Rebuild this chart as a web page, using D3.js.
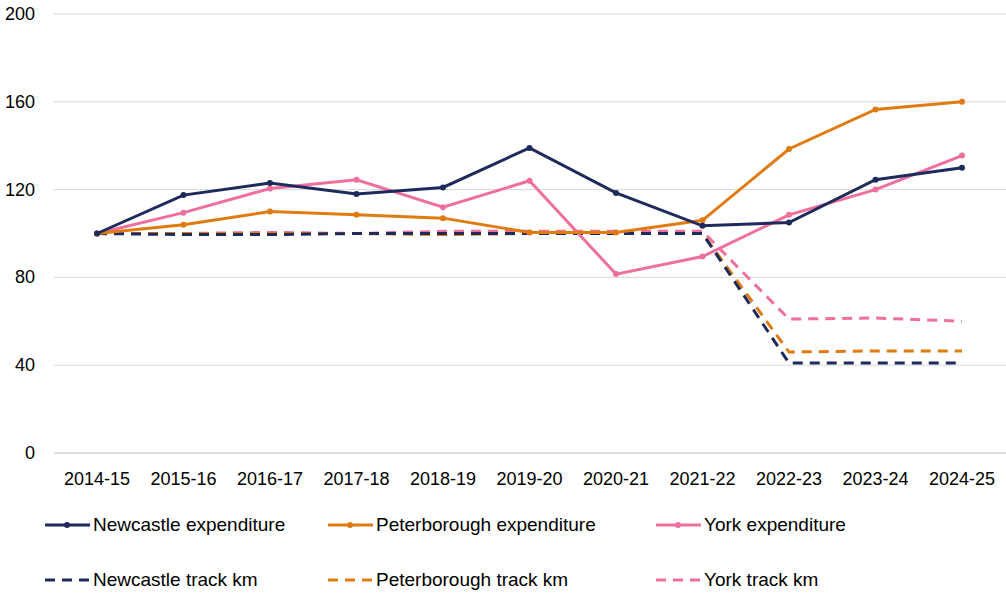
<!DOCTYPE html>
<html><head><meta charset="utf-8">
<script src="https://cdn.jsdelivr.net/npm/d3@7/dist/d3.min.js"></script>
<style>body{margin:0;background:#fff}text{font-family:"Liberation Sans",Arial,sans-serif}</style>
</head><body><svg id="c" width="1006" height="601"></svg>
<script>
const categories=["2014-15","2015-16","2016-17","2017-18","2018-19","2019-20","2020-21","2021-22","2022-23","2023-24","2024-25"];
const yTicks=[0,40,80,120,160,200];
const newcastleExp=[100,117.5,123,118,121,139,118.5,103.5,105,124.5,130];
const peterboroughExp=[100,104,110,108.5,107,100.5,100.5,106,138.5,156.5,160];
const yorkExp=[100,109.5,120.5,124.5,112,124,81.5,89.5,108.5,120,135.5];
const newcastleKm=[100,99.5,99.5,100,100,100,100,100,41,41,41];
const peterboroughKm=[100,100,100,100,99.5,100,100,100,46,46.5,46.5];
const yorkKm=[100,100,100.5,100,101,101,101,101,61,61.5,60];
const series=[
 {name:"Newcastle expenditure",v:newcastleExp,c:"#1f2a5c",dash:null},
 {name:"Peterborough expenditure",v:peterboroughExp,c:"#e07b12",dash:null},
 {name:"York expenditure",v:yorkExp,c:"#ef6f9f",dash:null},
 {name:"Newcastle track km",v:newcastleKm,c:"#1f2a5c",dash:"10,7"},
 {name:"Peterborough track km",v:peterboroughKm,c:"#e07b12",dash:"10,7"},
 {name:"York track km",v:yorkKm,c:"#ef6f9f",dash:"10,7"}];
const svg=d3.select("#c");
const x=d3.scalePoint().domain(categories).range([97,962]);
const y=d3.scaleLinear().domain([0,200]).range([453,14]);
svg.append("g").selectAll("line").data(yTicks).join("line")
 .attr("x1",54).attr("x2",1006).attr("y1",d=>y(d)).attr("y2",d=>y(d))
 .attr("stroke",d=>d===0?"#bfbfbf":"#d9d9d9").attr("stroke-width",1);
svg.append("g").selectAll("text").data(yTicks).join("text")
 .attr("x",35).attr("y",d=>y(d)+6).attr("text-anchor","end").attr("font-size",18).attr("fill","#000").text(d=>d);
svg.append("g").selectAll("text").data(categories).join("text")
 .attr("x",d=>x(d)).attr("y",485).attr("text-anchor","middle").attr("font-size",18).attr("fill","#000").text(d=>d);
const line=d3.line().x((d,i)=>x(categories[i])).y(d=>y(d));
[...series].reverse().forEach(s=>{
 svg.append("path").attr("d",line(s.v)).attr("fill","none").attr("stroke",s.c)
  .attr("stroke-width",3).attr("stroke-dasharray",s.dash);
 if(!s.dash) svg.append("g").selectAll("circle").data(s.v).join("circle")
  .attr("cx",(d,i)=>x(categories[i])).attr("cy",d=>y(d)).attr("r",3).attr("fill",s.c);
});
const lx=[45,328,656], ly=[525,580];
series.forEach((s,i)=>{
 const gx=lx[i%3], gy=ly[Math.floor(i/3)];
 const g=svg.append("g");
 g.append("line").attr("x1",gx).attr("x2",gx+45).attr("y1",gy).attr("y2",gy).attr("stroke",s.c).attr("stroke-width",3).attr("stroke-dasharray",s.dash);
 if(!s.dash) g.append("circle").attr("cx",gx+22).attr("cy",gy).attr("r",3).attr("fill",s.c);
 g.append("text").attr("x",gx+48).attr("y",gy+6).attr("font-size",19).attr("fill","#000").text(s.name);
});
</script></body></html>
